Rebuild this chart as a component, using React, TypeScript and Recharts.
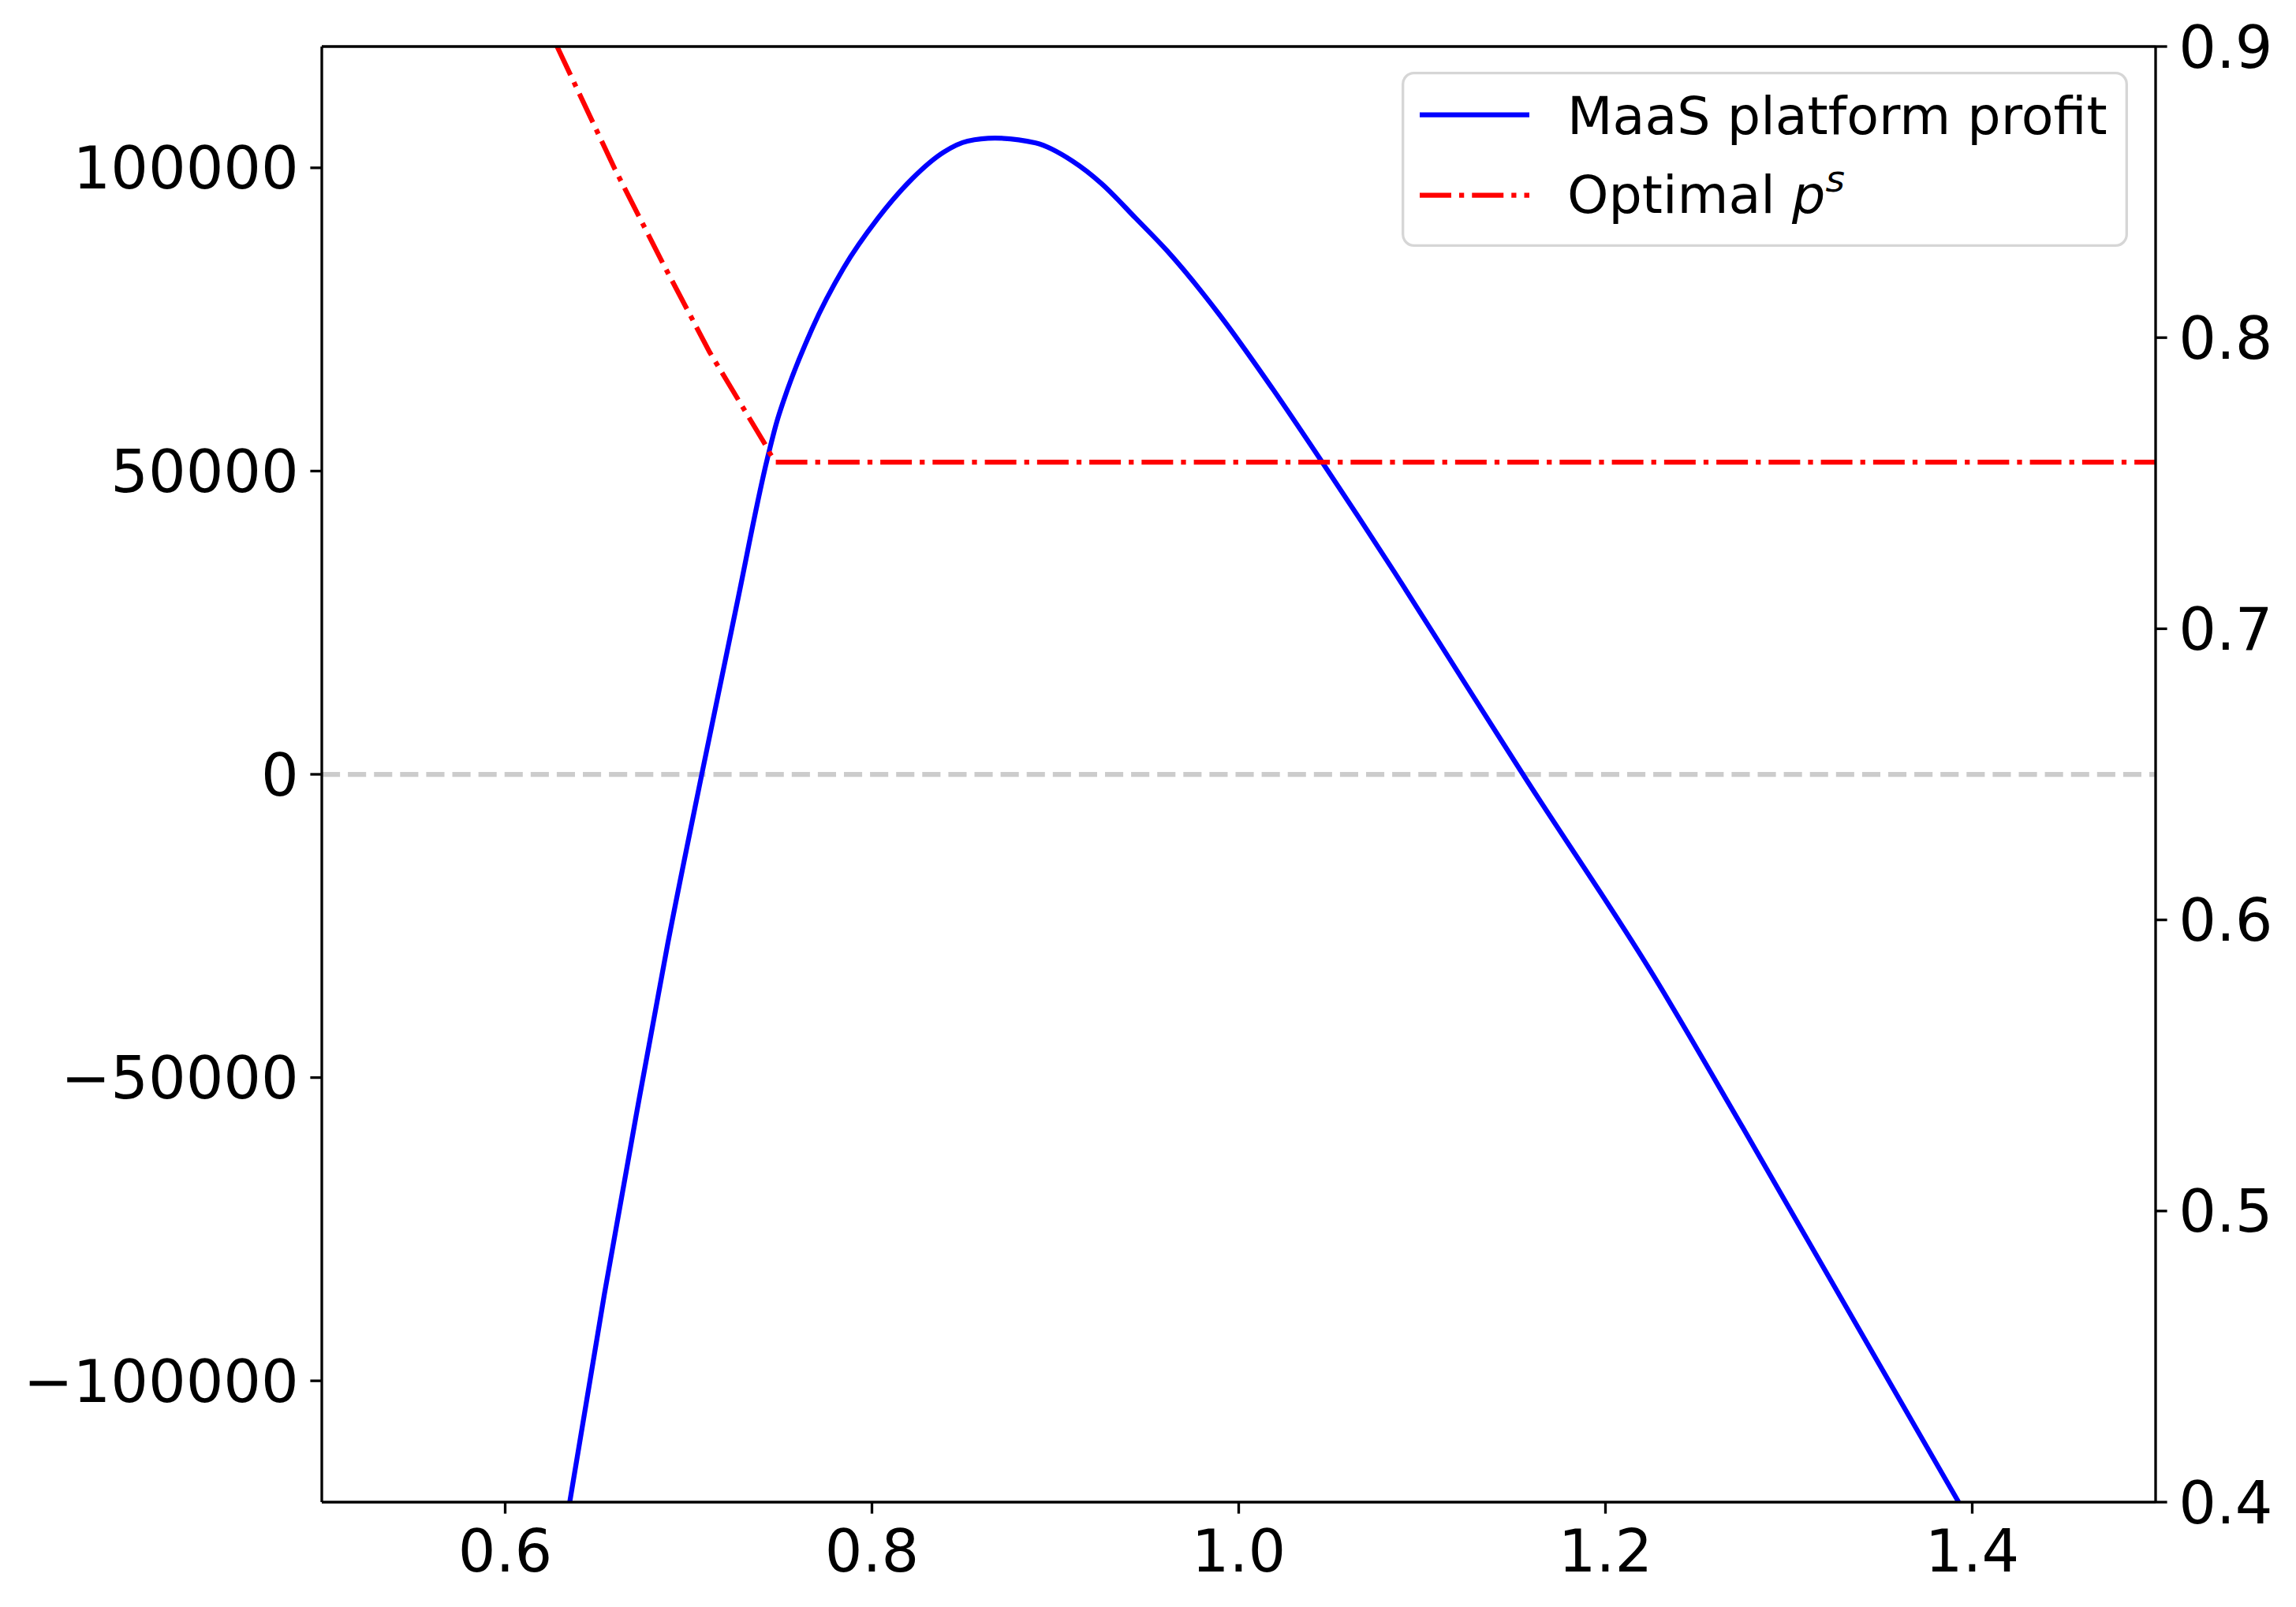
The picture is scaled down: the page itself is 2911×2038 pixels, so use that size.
import { Legend, Line, LineChart, ReferenceLine, XAxis, YAxis } from "recharts";

// price (x) samples and platform profit
const PROFIT_PRICE = [
  0.6352, 0.6541, 0.6714, 0.6886, 0.7072, 0.7259, 0.743, 0.7482, 0.7516, 0.7674,
  0.7846, 0.8033, 0.8219, 0.8392, 0.8521, 0.8671, 0.8893, 0.9094, 0.9252, 0.9438,
  0.961, 0.9897, 1.0184, 1.0457, 1.085, 1.123, 1.1417, 1.155, 1.2268, 1.2748, 1.3926,
];
const PROFIT = [
  -120000, -85700, -56300, -28000, 0, 27400, 52100, 58200, 61400, 73500,
  83500, 91700, 98200, 102600, 104400, 104900, 104100, 101100, 97400, 91700,
  86300, 75700, 63600, 51400, 33300, 15200, 6300, 0, -33500, -58200, -120000,
];

// optimal p^s (right axis)
const PS_PRICE = [0.6283, 0.6599, 0.6857, 0.7115, 0.7416, 0.7445, 0.7475, 1.5];
const OPTIMAL_PS = [0.9, 0.8578, 0.8259, 0.795, 0.7635, 0.7601, 0.7572, 0.7572];

const X_TICKS = [0.6, 0.8, 1.0, 1.2, 1.4];
const PROFIT_TICKS = [-100000, -50000, 0, 50000, 100000];
const PS_TICKS = [0.4, 0.5, 0.6, 0.7, 0.8, 0.9];
const SERIES_NAMES = ["MaaS platform profit", "Optimal "];

const FONT = "DejaVu Sans";
const SPINE = 3.33;
const TICK_LEN = 14.6;
const LW = 6.25;
const DASH_DOT = "40 10 6.25 10";

const profitRows = PROFIT_PRICE.map((x, i) => ({ x, profit: PROFIT[i] }));
const psRows = PS_PRICE.map((x, i) => ({ x, ps: OPTIMAL_PS[i] }));

const tickStyle = { fill: "#000", fontSize: 75, fontFamily: FONT };
const axisLine = { stroke: "#000", strokeWidth: SPINE };

function LegendBox() {
  return (
    <svg width={921} height={222} style={{ display: "block" }}>
      <rect
        x={1.7}
        y={1.7}
        width={917.6}
        height={218.6}
        rx={14}
        fill="#fff"
        fillOpacity={0.8}
        stroke="#d6d6d6"
        strokeWidth={SPINE}
      />
      <line x1={23} x2={162} y1={54.7} y2={54.7} stroke="#0000ff" strokeWidth={LW} />
      <text x={210} y={79} fontSize={66.7} fontFamily={FONT} fill="#000">
        {SERIES_NAMES[0]}
      </text>
      <line
        x1={23}
        x2={162}
        y1={156.7}
        y2={156.7}
        stroke="#ff0000"
        strokeWidth={LW}
        strokeDasharray={DASH_DOT}
      />
      <text x={210} y={179} fontSize={66.7} fontFamily={FONT} fill="#000" xmlSpace="preserve">
        {SERIES_NAMES[1]}
        <tspan fontStyle="italic">p</tspan>
        <tspan fontStyle="italic" fontSize={47} dy={-27}>
          s
        </tspan>
      </text>
    </svg>
  );
}

export default function App() {
  return (
    <div
      style={{
        position: "absolute",
        left: 0,
        top: 0,
        width: 2911,
        height: 2038,
        background: "#fff",
        fontFamily: FONT,
      }}
    >
      <LineChart width={2911} height={2038} margin={{ top: 59, right: 0, bottom: 0, left: 0 }}>
        <XAxis
          type="number"
          dataKey="x"
          domain={[0.5, 1.5]}
          allowDataOverflow
          ticks={X_TICKS}
          interval={0}
          tickFormatter={(v: number) => v.toFixed(1)}
          height={133}
          tick={tickStyle}
          tickSize={TICK_LEN}
          tickMargin={20}
          tickLine={axisLine}
          axisLine={axisLine}
        />
        <YAxis
          yAxisId="left"
          type="number"
          domain={[-120000, 120000]}
          allowDataOverflow
          ticks={PROFIT_TICKS}
          interval={0}
          tickFormatter={(v: number) => (v < 0 ? "\u2212" + Math.abs(v) : String(v))}
          width={408}
          tick={tickStyle}
          tickSize={TICK_LEN}
          tickMargin={TICK_LEN}
          tickLine={axisLine}
          axisLine={axisLine}
        />
        <YAxis
          yAxisId="right"
          orientation="right"
          type="number"
          domain={[0.4, 0.9]}
          allowDataOverflow
          ticks={PS_TICKS}
          interval={0}
          tickFormatter={(v: number) => v.toFixed(1)}
          width={178}
          tick={tickStyle}
          tickSize={TICK_LEN}
          tickMargin={TICK_LEN}
          tickLine={axisLine}
          axisLine={axisLine}
        />
        <ReferenceLine
          yAxisId="left"
          y={0}
          stroke="#cccccc"
          strokeWidth={LW}
          strokeDasharray="23.1 10"
        />
        <Line
          yAxisId="left"
          data={profitRows}
          dataKey="profit"
          type="monotone"
          stroke="#0000ff"
          strokeWidth={LW}
          dot={false}
          activeDot={false}
          isAnimationActive={false}
        />
        <Line
          yAxisId="right"
          data={psRows}
          dataKey="ps"
          type="linear"
          stroke="#ff0000"
          strokeWidth={LW}
          strokeDasharray={DASH_DOT}
          dot={false}
          activeDot={false}
          isAnimationActive={false}
        />
        {/* top spine of the frame */}
        <ReferenceLine yAxisId="left" y={120000} stroke="#000" strokeWidth={SPINE} />
        <Legend
          layout="horizontal"
          verticalAlign="middle"
          align="center"
          content={() => <LegendBox />}
          wrapperStyle={{ position: "absolute", left: 1777, top: 91, width: 921, height: 222 }}
        />
      </LineChart>
    </div>
  );
}
